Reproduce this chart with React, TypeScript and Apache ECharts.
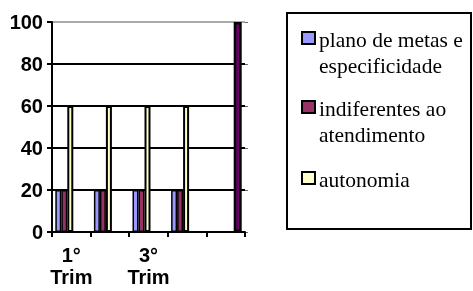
import React, { useEffect, useRef } from "react";
import * as echarts from "echarts";

const categories = ["1°\nTrim", "2°\nTrim", "3°\nTrim", "4°\nTrim", ""];
const seriesNames = ["plano de metas e especificidade", "indiferentes ao atendimento", "autonomia"];
const legendLines = [["plano de metas e", "especificidade"], ["indiferentes ao", "atendimento"], ["autonomia"]];
const planoValues = [20, 20, 20, 20, null];
const indiferentesValues = [20, 20, 20, 20, null];
const autonomiaValues = [60, 60, 60, 60, null];
const emptyValues = [null, null, null, null, null];
const totalValues = [null, null, null, null, 100];

const colors = ["#9999FF", "#993366", "#FFFFCC", "#ffffff", "#660066"];

export default function App() {
  const ref = useRef<HTMLDivElement>(null);
  useEffect(() => {
    if (!ref.current) return;
    const chart = echarts.init(ref.current, null, { renderer: "svg" });
    const barBase = {
      type: "bar" as const,
      barWidth: 6,
      barGap: "0%",
    };
    const legendGraphic: any[] = [
      {
        type: "rect",
        shape: { x: 287, y: 13, width: 184, height: 216 },
        style: { fill: "#fff", stroke: "#000", lineWidth: 2 },
      },
    ];
    const itemCentres = [38, 107, 178];
    const lineH = 26;
    legendLines.forEach((lines, i) => {
      legendGraphic.push({
        type: "rect",
        shape: { x: 302, y: itemCentres[i] - 6, width: 13, height: 12 },
        style: { fill: colors[i], stroke: "#000", lineWidth: 2 },
      });
      legendGraphic.push({
        type: "text",
        x: 319,
        y: itemCentres[i] - lineH / 2 + 2,
        style: {
          text: lines.join("\n"),
          font: "21.5px 'Liberation Serif', 'Times New Roman', serif",
          fill: "#000",
          lineHeight: lineH,
          verticalAlign: "top",
        },
      });
    });

    chart.setOption({
      animation: false,
      grid: { left: 52, right: 228, top: 22, bottom: 59, containLabel: false },
      xAxis: {
        type: "category",
        data: categories,
        axisLine: { show: true, lineStyle: { color: "#000", width: 2 } },
        axisTick: { show: true, interval: 0, length: 5, lineStyle: { color: "#000", width: 2 } },
        axisLabel: {
          interval: 1,
          margin: 12,
          color: "#000",
          fontFamily: "'Liberation Sans', Arial, sans-serif",
          fontWeight: "bold",
          fontSize: 20,
          lineHeight: 22,
        },
      },
      yAxis: [
        {
          type: "value",
          min: 0,
          max: 100,
          interval: 20,
          axisLine: { show: true, lineStyle: { color: "#000", width: 2 } },
          axisTick: { show: true, length: 5, lineStyle: { color: "#000", width: 2 } },
          axisLabel: {
            margin: 9,
            color: "#000",
            fontFamily: "'Liberation Sans', Arial, sans-serif",
            fontWeight: "bold",
            fontSize: 20,
          },
          splitLine: {
            show: true,
            lineStyle: { color: ["#000", "#000", "#000", "#000", "#000", "#aaa"], width: 2 },
          },
        },
        {
          type: "value",
          position: "right",
          min: 0,
          max: 100,
          interval: 20,
          axisLine: { show: false },
          axisTick: { show: true, length: 3, lineStyle: { color: "#666", width: 1 } },
          axisLabel: { show: false },
          splitLine: { show: false },
        },
      ],
      series: [
        { ...barBase, name: seriesNames[0], data: planoValues, itemStyle: { color: colors[0], borderColor: "#000", borderWidth: 1.5 } },
        { ...barBase, name: seriesNames[1], data: indiferentesValues, itemStyle: { color: colors[1], borderColor: "#000", borderWidth: 1.5 } },
        { ...barBase, name: seriesNames[2], data: autonomiaValues, itemStyle: { color: colors[2], borderColor: "#000", borderWidth: 2 } },
        { ...barBase, name: "vazio", data: emptyValues, itemStyle: { color: colors[3], borderColor: "#000", borderWidth: 2 } },
        { ...barBase, name: "total", barWidth: 8, data: totalValues, itemStyle: { color: colors[4], borderColor: "#000", borderWidth: 2.5 } },
      ],
      graphic: legendGraphic,
    });
    return () => chart.dispose();
  }, []);
  return <div ref={ref} style={{ position: "fixed", left: 0, top: 0, width: 473, height: 291 }} />;
}
